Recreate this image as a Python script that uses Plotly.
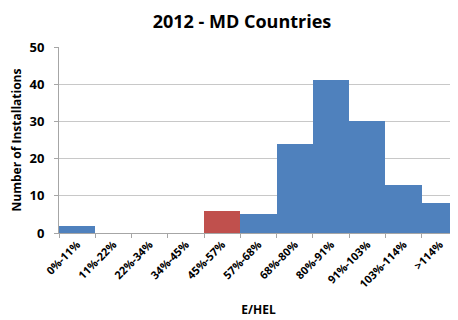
import plotly.graph_objects as go

categories = ['0%-11%', '11%-22%', '22%-34%', '34%-45%', '45%-57%', '57%-68%',
              '68%-80%', '80%-91%', '91%-103%', '103%-114%', '>114%']
installations = [2, 0, 0, 0, 6, 5, 24, 41, 30, 13, 8]
highlight = '45%-57%'

colors = ['#C0504D' if c == highlight else '#4F81BD' for c in categories]

fig = go.Figure(go.Bar(
    x=categories,
    y=installations,
    marker_color=colors,
    marker_line_width=0,
))

font = 'Open Sans, DejaVu Sans, sans-serif'

# page body adds an 8px offset, so the figure is sized to fill the rest
fig.update_layout(
    width=450, height=312,
    margin=dict(l=51, r=0, t=39, b=87),
    paper_bgcolor='white', plot_bgcolor='white',
    bargap=0,
    showlegend=False,
    title=dict(text='<b>2012 - MD Countries</b>', x=0.52, xanchor='center',
               y=0.955, yanchor='middle',
               font=dict(family=font, size=18, color='black')),
    font=dict(family=font, color='black'),
)

fig.update_xaxes(
    type='category',
    automargin=False,
    tickangle=-45,
    tickprefix='<b>', ticksuffix='</b>',
    tickfont=dict(size=11, family=font, color='black'),
    ticks='outside', tickson='boundaries', ticklen=4, tickcolor='#A6A6A6',
    showline=True, linecolor='#A6A6A6', linewidth=1,
    title=dict(text='<b>E/HEL</b>', font=dict(size=12, family=font)),
)

fig.update_yaxes(
    automargin=False,
    range=[0, 50], dtick=10,
    tickfont=dict(size=13, family=font, color='black'),
    ticks='outside', ticklen=4, tickcolor='#A6A6A6',
    ticklabelstandoff=7,
    showline=True, linecolor='#A6A6A6', linewidth=1,
    showgrid=True, gridcolor='#C8C8C8', gridwidth=1,
    zeroline=False,
    tickprefix='<b>', ticksuffix='</b>',
    title=dict(text='<b>Number of Installations</b>', font=dict(size=12, family=font)),
)

fig.write_html('out.html')
